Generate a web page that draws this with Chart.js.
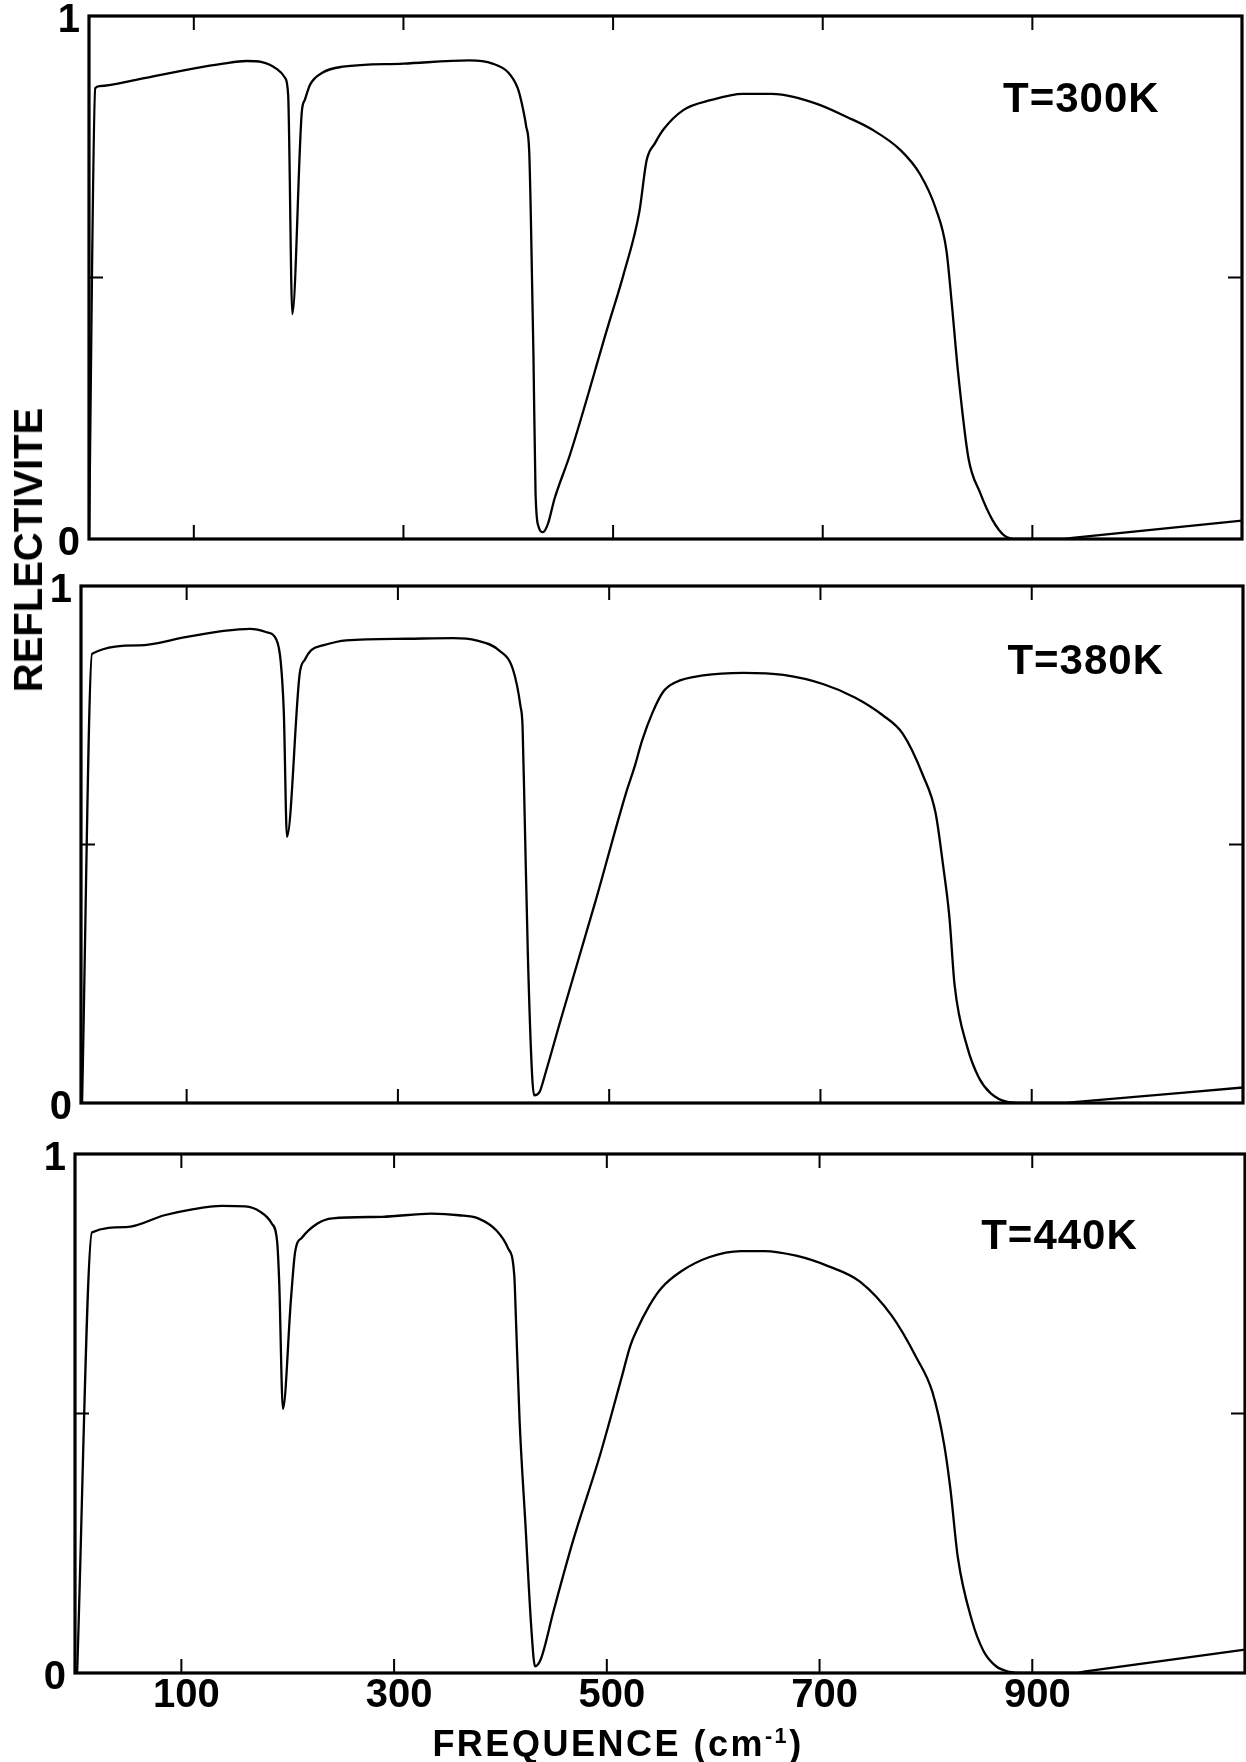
<!DOCTYPE html>
<html lang="fr">
<head>
<meta charset="utf-8">
<title>Reflectivite</title>
<script src="https://cdn.jsdelivr.net/npm/chart.js@4.4.0/dist/chart.umd.min.js"></script>
<style>
  html, body { margin: 0; padding: 0; background: #fff; }
  body { width: 1246px; height: 1762px; position: relative; overflow: hidden; }
  canvas { position: absolute; left: 0; }
  .titulo {
    position: absolute;
    font-family: "Liberation Sans", Arial, sans-serif;
    font-weight: bold;
    color: #000;
    white-space: nowrap;
    line-height: 1;
  }
  .titulo sup { font-size: 60%; line-height: 0; }
  #tituloY { font-size: 40px; left: 28px; top: 550px; transform: translate(-50%, -50%) rotate(-90deg); }
  #tituloX { font-size: 36px; letter-spacing: 2.5px; left: 618px; top: 1726px; transform: translateX(-50%); }
</style>
</head>
<body>
<canvas id="panel1"></canvas>
<canvas id="panel2"></canvas>
<canvas id="panel3"></canvas>
<div class="titulo" id="tituloY">REFLECTIVITE</div>
<div class="titulo" id="tituloX">FREQUENCE (cm<sup>-1</sup>)</div>
<script>
const freq300 = [0, 6, 10, 47, 98, 128, 150, 165, 179, 187,
  190, 194, 203, 206, 211, 223, 242, 300, 363, 385,
  400, 409, 413, 417, 420, 421.5, 424, 426, 429, 433, 438,
  444, 459, 495, 510, 525, 532, 540, 548, 567, 593,
  624, 651, 693, 724, 747, 774, 793, 808, 818, 823,
  829, 839, 850, 862, 873, 885, 928, 938, 1100];
const refl300 = [0, 0.862, 0.866, 0.879, 0.899, 0.909, 0.914, 0.912, 0.899, 0.882,
  0.849, 0.43, 0.816, 0.84, 0.869, 0.892, 0.903, 0.909, 0.915, 0.909,
  0.892, 0.862, 0.832, 0.79, 0.74, 0.62, 0.354, 0.089, 0.023, 0.013, 0.03,
  0.076, 0.162, 0.406, 0.506, 0.625, 0.724, 0.757, 0.783, 0.82, 0.839,
  0.851, 0.851, 0.833, 0.806, 0.783, 0.744, 0.697, 0.631, 0.552, 0.453,
  0.321, 0.155, 0.089, 0.036, 0.007, 0, 0, 0.0022, 0.035];

const freq380 = [1, 10.5, 55, 99, 135, 160, 175, 185, 189,
  192, 195, 207, 212, 218, 229, 251, 309, 352, 374,
  396, 409, 416, 418, 420, 423, 427, 429, 434, 440,
  454, 487, 516, 524, 531, 541, 551, 563, 589, 627,
  665, 703, 733, 759, 778, 797, 809, 816, 822, 827,
  839, 850, 861, 877, 892, 930, 940, 1100];
const refl380 = [0, 0.869, 0.885, 0.901, 0.913, 0.917, 0.911, 0.896, 0.855,
  0.755, 0.515, 0.83, 0.858, 0.876, 0.885, 0.895, 0.898, 0.899, 0.895,
  0.875, 0.838, 0.768, 0.728, 0.555, 0.288, 0.055, 0.015, 0.021, 0.06,
  0.16, 0.39, 0.6, 0.65, 0.7, 0.755, 0.795, 0.814, 0.827, 0.832,
  0.828, 0.81, 0.784, 0.75, 0.714, 0.634, 0.561, 0.461, 0.361, 0.228,
  0.108, 0.049, 0.019, 0.002, 0, 0, 0.0018, 0.03];

const freq440 = [2, 16, 48, 84, 109, 138, 160, 174, 185, 190,
  192, 195.5, 203, 207, 213.5, 228, 242, 289, 335, 361,
  379, 396.5, 407, 413, 414.5, 418, 423.5, 429, 432.5, 438,
  450, 468, 493.5, 514, 522, 528, 540, 551, 570, 596,
  626, 648, 678, 708, 738, 768, 791, 806, 817, 823,
  830, 843, 854, 866, 879, 888, 940, 950, 1100];
const refl440 = [0, 0.849, 0.859, 0.882, 0.893, 0.9, 0.899, 0.889, 0.866, 0.832,
  0.752, 0.509, 0.719, 0.812, 0.839, 0.866, 0.876, 0.879, 0.885, 0.882,
  0.876, 0.852, 0.819, 0.766, 0.686, 0.486, 0.286, 0.087, 0.013, 0.027,
  0.12, 0.253, 0.419, 0.57, 0.63, 0.66, 0.708, 0.741, 0.774, 0.801,
  0.813, 0.813, 0.804, 0.784, 0.754, 0.688, 0.608, 0.542, 0.442, 0.355,
  0.223, 0.103, 0.043, 0.013, 0.002, 0, 0, 0.003, 0.045];

// Marcas de los ejes
const xTicks = [100, 300, 500, 700, 900];
const yTicks = [0, 0.5, 1];

// Etiquetas de temperatura
const tempLabels = ["T=300K", "T=380K", "T=440K"];

const fuente = "'Liberation Sans', Arial, sans-serif";

// Posicion de cada panel en la pagina
const paneles = [
  { id: "panel1", freq: freq300, refl: refl300, texto: tempLabels[0], pos: [872, 0.816],
    area: { left: 89, right: 1242, top: 16, bottom: 539 } },
  { id: "panel2", freq: freq380, refl: refl380, texto: tempLabels[1], pos: [877, 0.83],
    area: { left: 81, right: 1243, top: 586, bottom: 1103 } },
  { id: "panel3", freq: freq440, refl: refl440, texto: tempLabels[2], pos: [852, 0.817],
    area: { left: 75, right: 1245, top: 1154, bottom: 1673 } },
];

// Plugin que dibuja el marco, las marcas interiores y la temperatura
const marco = {
  id: "marco",
  afterDatasetsDraw(chart, args, opts) {
    const { ctx, chartArea: ca, scales } = chart;
    const x = scales.x;
    const y = scales.y;
    ctx.save();
    ctx.strokeStyle = "#000";
    ctx.lineWidth = 3.2;
    ctx.strokeRect(ca.left, ca.top, ca.right - ca.left, ca.bottom - ca.top);

    ctx.lineWidth = 2;
    ctx.beginPath();
    xTicks.forEach((v) => {
      const px = x.getPixelForValue(v);
      ctx.moveTo(px, ca.top);
      ctx.lineTo(px, ca.top + 14);
      ctx.moveTo(px, ca.bottom);
      ctx.lineTo(px, ca.bottom - 14);
    });
    const py = y.getPixelForValue(0.5);
    ctx.moveTo(ca.left, py);
    ctx.lineTo(ca.left + 14, py);
    ctx.moveTo(ca.right, py);
    ctx.lineTo(ca.right - 14, py);
    ctx.stroke();

    ctx.font = "bold 42px " + fuente;
    ctx.fillStyle = "#000";
    ctx.textAlign = "left";
    ctx.textBaseline = "alphabetic";
    ctx.letterSpacing = "1px";
    ctx.fillText(opts.texto, x.getPixelForValue(opts.pos[0]), y.getPixelForValue(opts.pos[1]));
    ctx.restore();
  },
};

// Crea un panel; solo el ultimo lleva los numeros del eje x
function crearPanel(panel, conEjeX) {
  const canvas = document.getElementById(panel.id);
  const a = panel.area;
  const padTop = 30;
  const padBottom = conEjeX ? 0 : 30;
  const altoEjeX = conEjeX ? 1762 - a.bottom : 0;
  canvas.width = 1246;
  canvas.height = padTop + (a.bottom - a.top) + padBottom + altoEjeX;
  canvas.style.top = a.top - padTop + "px";

  return new Chart(canvas, {
    type: "line",
    data: {
      datasets: [
        {
          data: panel.freq.map((f, i) => ({ x: f, y: panel.refl[i] })),
          borderColor: "#000",
          borderWidth: 2.3,
          pointRadius: 0,
          cubicInterpolationMode: "monotone",
          fill: false,
        },
      ],
    },
    options: {
      responsive: false,
      animation: false,
      devicePixelRatio: 1,
      layout: { padding: { top: padTop, bottom: padBottom, left: 0, right: 1246 - a.right } },
      plugins: {
        legend: { display: false },
        tooltip: { enabled: false },
        marco: { texto: panel.texto, pos: panel.pos },
      },
      scales: {
        x: {
          type: "linear",
          min: 0,
          max: 1100,
          display: conEjeX,
          afterBuildTicks: (s) => { s.ticks = xTicks.map((v) => ({ value: v })); },
          afterFit: (s) => { s.height = altoEjeX; },
          grid: { display: false, drawTicks: false },
          border: { display: false },
          ticks: {
            color: "#000",
            padding: 3,
            labelOffset: 5,
            maxRotation: 0,
            font: { family: fuente, size: 40, weight: "bold", lineHeight: 1 },
            callback: (v) => String(v),
          },
        },
        y: {
          type: "linear",
          min: 0,
          max: 1,
          afterBuildTicks: (s) => { s.ticks = yTicks.map((v) => ({ value: v })); },
          afterFit: (s) => { s.width = a.left; },
          grid: { display: false, drawTicks: false },
          border: { display: false },
          ticks: {
            color: "#000",
            padding: 9,
            labelOffset: 5,
            font: { family: fuente, size: 40, weight: "bold", lineHeight: 1 },
            callback: (v) => (v === 0.5 ? "" : String(v)),
          },
        },
      },
    },
    plugins: [marco],
  });
}

paneles.forEach((p, i) => crearPanel(p, i === paneles.length - 1));
</script>
</body>
</html>
